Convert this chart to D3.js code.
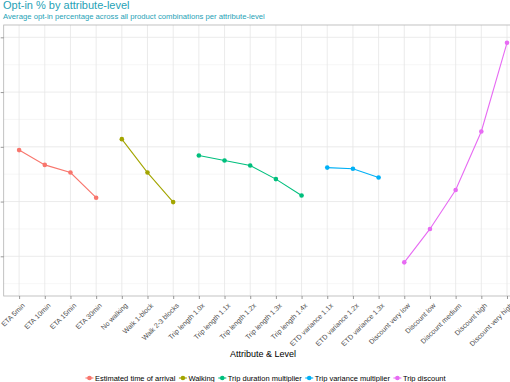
<!DOCTYPE html>
<html>
<head>
<meta charset="utf-8">
<script src="https://cdn.jsdelivr.net/npm/d3@7"></script>
<style>
  body { margin: 0; background: #fff; }
  svg { display: block; font-family: "Liberation Sans", Arial, sans-serif; }
</style>
</head>
<body>
<svg id="chart"></svg>
<script>
// attribute names (legend) and their colours
const attributes = ['Estimated time of arrival', 'Walking', 'Trip duration multiplier', 'Trip variance multiplier', 'Trip discount']
const colors = ['#F8766D', '#A3A500', '#00BF7D', '#00B0F6', '#E76BF3']

// levels per attribute and average opt-in (%)
const etaLevels = ['ETA 5min', 'ETA 10min', 'ETA 15min', 'ETA 30min']
const etaOptIn = [39.4, 36.7, 35.3, 30.7]

const walkLevels = ['No walking', 'Walk 1-block', 'Walk 2-3 blocks']
const walkOptIn = [41.4, 35.3, 29.9]

const tripLevels = ['Trip length 1.0x', 'Trip length 1.1x', 'Trip length 1.2x', 'Trip length 1.3x', 'Trip length 1.4x']
const tripOptIn = [38.4, 37.5, 36.6, 34.1, 31.1]

const etdLevels = ['ETD variance 1.1x', 'ETD variance 1.2x', 'ETD variance 1.3x']
const etdOptIn = [36.2, 36.0, 34.4]

const discLevels = ['Discount very low', 'Discount low', 'Discount medium', 'Discount high', 'Discount very high']
const discOptIn = [18.9, 25.0, 32.1, 42.8, 59.0]

const yTicks = [20, 30, 40, 50, 60]
const yMinor = [15, 25, 35, 45, 55]

const series = [
  [etaLevels, etaOptIn],
  [walkLevels, walkOptIn],
  [tripLevels, tripOptIn],
  [etdLevels, etdOptIn],
  [discLevels, discOptIn]
].map(([lv, vals], i) => ({
  name: attributes[i],
  color: colors[i],
  values: lv.map((l, j) => ({ level: l, value: vals[j] }))
}))

const allLevels = series.flatMap(s => s.values.map(d => d.level))

const width = 510
const height = 382
const panel = { left: 3.7, right: 522.4, top: 25, bottom: 296 }

const svg = d3.select('#chart')
  .attr('width', width)
  .attr('height', height)

const x = d3.scalePoint()
  .domain(allLevels)
  .range([panel.left, panel.right])
  .padding(0.6)

const y = d3.scaleLinear()
  .domain([12.75, 62.25])
  .range([panel.bottom, panel.top])

// title + subtitle
svg.append('text')
  .attr('x', 3).attr('y', 9)
  .attr('font-size', 11)
  .attr('fill', '#26a2b6')
  .text('Opt-in % by attribute-level')

svg.append('text')
  .attr('x', 3).attr('y', 18.5)
  .attr('font-size', 7.7)
  .attr('fill', '#26a2b6')
  .text('Average opt-in percentage across all product combinations per attribute-level')

// grid
const grid = svg.append('g')

grid.selectAll('.minor')
  .data(yMinor)
  .enter().append('line')
  .attr('x1', panel.left).attr('x2', panel.right)
  .attr('y1', d => y(d)).attr('y2', d => y(d))
  .attr('stroke', '#f0f0f0')
  .attr('stroke-width', 0.6)

grid.selectAll('.major')
  .data(yTicks)
  .enter().append('line')
  .attr('x1', panel.left).attr('x2', panel.right)
  .attr('y1', d => y(d)).attr('y2', d => y(d))
  .attr('stroke', '#e6e6e6')
  .attr('stroke-width', 0.8)

grid.selectAll('.vert')
  .data(allLevels)
  .enter().append('line')
  .attr('x1', d => x(d)).attr('x2', d => x(d))
  .attr('y1', panel.top).attr('y2', panel.bottom)
  .attr('stroke', '#e6e6e6')
  .attr('stroke-width', 0.8)

// panel border
svg.append('rect')
  .attr('x', panel.left).attr('y', panel.top)
  .attr('width', panel.right - panel.left)
  .attr('height', panel.bottom - panel.top)
  .attr('fill', 'none')
  .attr('stroke', '#b3b3b3')
  .attr('stroke-width', 0.8)

// y axis: ticks only (labels fall outside the picture)
const yAxis = svg.append('g')
  .attr('transform', `translate(${panel.left},0)`)
  .call(d3.axisLeft(y).tickValues(yTicks).tickSize(3).tickFormat(''))
yAxis.select('.domain').remove()
yAxis.selectAll('line').attr('stroke', '#7f7f7f').attr('stroke-width', 0.8)

// x axis
const xAxis = svg.append('g')
  .attr('transform', `translate(0,${panel.bottom})`)
  .call(d3.axisBottom(x).tickSize(3).tickFormat(''))
xAxis.select('.domain').remove()
xAxis.selectAll('line').attr('stroke', '#7f7f7f').attr('stroke-width', 0.8)

svg.append('g')
  .selectAll('text')
  .data(allLevels)
  .enter().append('text')
  .attr('transform', d => `translate(${x(d) + 2.7},${panel.bottom + 6.5}) rotate(-45)`)
  .attr('text-anchor', 'end')
  .attr('dy', '0.71em')
  .attr('font-size', 7)
  .attr('fill', '#4d4d4d')
  .text(d => d)

svg.append('text')
  .attr('x', 263).attr('y', 357)
  .attr('text-anchor', 'middle')
  .attr('font-size', 9)
  .attr('fill', '#000')
  .text('Attribute & Level')

// lines + points
const line = d3.line()
  .x(d => x(d.level))
  .y(d => y(d.value))

const sg = svg.selectAll('.series')
  .data(series)
  .enter().append('g')

sg.append('path')
  .attr('d', d => line(d.values))
  .attr('fill', 'none')
  .attr('stroke', d => d.color)
  .attr('stroke-width', 1.1)

sg.selectAll('circle')
  .data(d => d.values.map(v => ({ ...v, color: d.color })))
  .enter().append('circle')
  .attr('cx', d => x(d.level))
  .attr('cy', d => y(d.value))
  .attr('r', 2.3)
  .attr('fill', d => d.color)

// legend
const legend = svg.append('g')
const items = legend.selectAll('g')
  .data(series)
  .enter().append('g')

items.append('line')
  .attr('x1', -4).attr('x2', 4)
  .attr('stroke', d => d.color)
  .attr('stroke-width', 1.1)
items.append('circle')
  .attr('r', 2.3)
  .attr('fill', d => d.color)
items.append('text')
  .attr('x', 5.5)
  .attr('dy', '0.35em')
  .attr('font-size', 7.5)
  .attr('fill', '#000')
  .text(d => d.name)

let cursor = 0
const pos = []
items.each(function () {
  const w = d3.select(this).select('text').node().getComputedTextLength()
  pos.push(cursor)
  cursor += 5.5 + w + 7.5
})
const total = cursor - 7.5 + 4
const start = 265.5 - total / 2 + 4
items.attr('transform', (d, i) => `translate(${start + pos[i]},378)`)
</script>
</body>
</html>
